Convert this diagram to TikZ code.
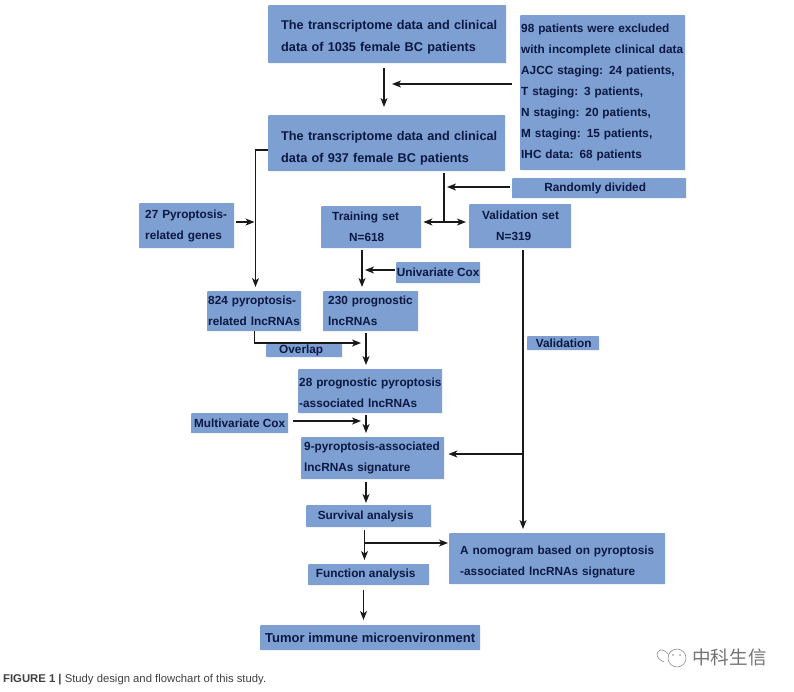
\documentclass[tikz,border=0pt]{standalone}
\usepackage{fontspec}
\setmainfont{Liberation Sans}
\newfontfamily\cjkfont{Noto Sans CJK SC}
\definecolor{boxblue}{RGB}{125,159,209}
\definecolor{boxink}{RGB}{12,24,66}
\usetikzlibrary{arrows.meta,calc}
\newcommand{\ind}[1]{\hspace*{#1pt}}
\tikzset{
  flowbox/.style={fill=boxblue, text=boxink, inner sep=0pt, align=left, anchor=north west,
    rounded corners=0.6pt, font=\bfseries\fontsize{11.8}{21}\selectfont},
  bigbox/.style={flowbox, font=\bfseries\fontsize{12.7}{22.5}\selectfont},
  flowline/.style={draw=black!90, line width=1.2pt},
  flowarrow/.style={flowline, -{Stealth[length=9pt,width=7pt,inset=2.5pt]}}
}
\begin{document}
\begin{tikzpicture}[x=1pt,y=-1pt]
  \useasboundingbox (0,0) rectangle (794,691);
  % boxes, top to bottom
  \node[bigbox, minimum width=238pt, minimum height=58pt, text width=238pt] (raw) at (268,5)
    {\rule{0pt}{15pt}\ind{13}The transcriptome data and clinical\\\ind{13}data of 1035 female BC patients};
  \node[flowbox, minimum width=165pt, minimum height=155pt, text width=165pt] (excluded) at (520,15)
    {\ind{1}98 patients were excluded\\\ind{1}with incomplete clinical data\\\ind{1}AJCC staging: 24 patients,\\\ind{1}T staging: 3 patients,\\\ind{1}N staging: 20 patients,\\\ind{1}M staging: 15 patients,\\\ind{1}IHC data: 68 patients};
  \node[bigbox, minimum width=237pt, minimum height=56pt, text width=237pt] (cohort) at (268,115)
    {\rule{0pt}{19pt}\ind{13}The transcriptome data and clinical\\\ind{13}data of 937 female BC patients};
  \node[flowbox, minimum width=174pt, minimum height=20pt, align=center] (divided) at (512,178) {\ind{-8}Randomly divided};
  \node[flowbox, minimum width=95pt, minimum height=45pt, text width=95pt] (genes) at (139,203)
    {\ind{6}27 Pyroptosis-\\\ind{6}related genes};
  \node[flowbox, minimum width=100pt, minimum height=42pt, text width=100pt] (training) at (321,206)
    {\ind{11}Training set\\\ind{28}N=618};
  \node[flowbox, minimum width=102pt, minimum height=44pt, text width=102pt] (validset) at (469,204)
    {\ind{13}Validation set\\\ind{27}N=319};
  \node[flowbox, minimum width=84pt, minimum height=21pt, align=center] (univariate) at (396,262) {Univariate Cox};
  \node[flowbox, minimum width=94pt, minimum height=40pt, text width=94pt] (pyrolnc) at (207,291)
    {\ind{1}824 pyroptosis-\\\ind{1}related lncRNAs};
  \node[flowbox, minimum width=95pt, minimum height=40pt, text width=95pt] (proglnc) at (323,291)
    {\ind{5}230 prognostic\\\ind{5}lncRNAs};
  \node[flowbox, minimum width=76pt, minimum height=13pt, align=center] (overlap) at (266,344) {\ind{-6}Overlap};
  \node[flowbox, minimum width=72pt, minimum height=14pt, align=center] (validation) at (527,336) {\ind{1}Validation};
  \node[flowbox, minimum width=144pt, minimum height=44pt, text width=144pt] (assoclnc) at (298,369)
    {\rule{0pt}{12pt}\ind{1}28 prognostic pyroptosis\\\ind{1}-associated lncRNAs};
  \node[flowbox, minimum width=97pt, minimum height=20pt, align=center] (multivariate) at (191,413) {Multivariate Cox};
  \node[flowbox, minimum width=143pt, minimum height=42pt, text width=143pt] (signature) at (301,437)
    {\ind{3}9-pyroptosis-associated\\\ind{3}lncRNAs signature};
  \node[flowbox, minimum width=125pt, minimum height=22pt, align=center] (survival) at (306,505) {\ind{-6}Survival analysis};
  \node[flowbox, minimum width=216pt, minimum height=51pt, text width=216pt] (nomogram) at (449,533)
    {\rule{0pt}{15pt}\ind{11}A nomogram based on pyroptosis\\\ind{11}-associated lncRNAs signature};
  \node[flowbox, minimum width=121pt, minimum height=21pt, align=center] (function) at (308,564) {\ind{-6}Function analysis};
  \node[flowbox, minimum width=220pt, minimum height=25pt, align=center,
    font=\bfseries\fontsize{13}{21}\selectfont] (tumor) at (260,625) {Tumor immune microenvironment};
  % free ends of the connectors
  \coordinate (c1) at (384,84);
  \coordinate (c2) at (444,187);
  \coordinate (c3) at (444,222);
  \coordinate (c4) at (255.5,222);
  \coordinate (c5) at (362,270);
  \coordinate (c6) at (366,343);
  \coordinate (c7) at (366,421);
  \coordinate (c8) at (523,454);
  \coordinate (c9) at (364.5,543);
  % connectors
  \draw[flowarrow, shorten <=5pt, shorten >=8pt] (raw.south -| c1) -- (cohort.north -| c1);
  \draw[flowarrow, shorten <=8pt, shorten >=8pt] (excluded.west |- c1) -- (c1);
  \draw[flowline] (cohort.west |- 0,150) -| (c4);
  \draw[flowarrow, shorten >=4pt] (c4) -- (pyrolnc.north -| c4);
  \draw[flowarrow, shorten <=2pt, shorten >=1pt] (genes.east |- c4) -- (c4);
  \draw[flowline, shorten <=2pt] (cohort.south -| c3) -- (c3);
  \draw[flowarrow, shorten <=2pt, shorten >=3pt] (divided.west |- c2) -- (c2);
  \draw[flowarrow, shorten >=2pt] (c3) -- (training.east |- c3);
  \draw[flowarrow, shorten >=3pt] (c3) -- (validset.west |- c3);
  \draw[flowarrow, shorten <=2pt, shorten >=4pt] (training.south -| c5) -- (proglnc.north -| c5);
  \draw[flowarrow, shorten <=1pt, shorten >=3pt] (univariate.west |- c5) -- (c5);
  \draw[flowarrow, shorten >=5pt] (pyrolnc.south -| 254.5,0) |- (c6);
  \draw[flowarrow, shorten <=2pt, shorten >=4pt] (proglnc.south -| c6) -- (assoclnc.north -| c6);
  \draw[flowarrow, shorten <=2pt, shorten >=4pt] (assoclnc.south -| c7) -- (signature.north -| c7);
  \draw[flowarrow, shorten <=5pt, shorten >=5pt] (multivariate.east |- c7) -- (c7);
  \draw[flowarrow, shorten <=2pt, shorten >=4pt] (validset.south -| c8) -- (nomogram.north -| c8);
  \draw[flowarrow, shorten >=4pt] (c8) -- (signature.east |- c8);
  \draw[flowarrow, shorten <=3pt, shorten >=2pt] (signature.south -| c7) -- (survival.north -| c7);
  \draw[flowarrow, shorten <=3pt, shorten >=4pt] (survival.south -| c9) -- (function.north -| c9);
  \draw[flowarrow, shorten >=1pt] (c9) -- (nomogram.west |- c9);
  \draw[flowarrow, shorten <=5pt, shorten >=5pt] (function.south -| 363.5,0) -- (tumor.north -| 363.5,0);
  % caption and mark
  \node[anchor=west, inner sep=0pt, text=black!75, font=\fontsize{11.3}{13}\selectfont] (caption) at (3,680)
    {\textbf{FIGURE 1 |} Study design and flowchart of this study.};
  \node[anchor=west, inner sep=0pt, text=black!55, font=\cjkfont\fontsize{18.6}{20}\selectfont] (mark) at (692,657) {中科生信};
  \draw[black!45, line width=0.6pt] (677,658) circle (9pt);
  \draw[black!45, line width=0.6pt] (668,654) .. controls (662,647) and (658,650) .. (657,654) .. controls (657,658) and (660,660) .. (664,662);
  \fill[black!45] (673,655) circle (0.8pt) (680,655) circle (0.8pt);
\end{tikzpicture}
\end{document}
